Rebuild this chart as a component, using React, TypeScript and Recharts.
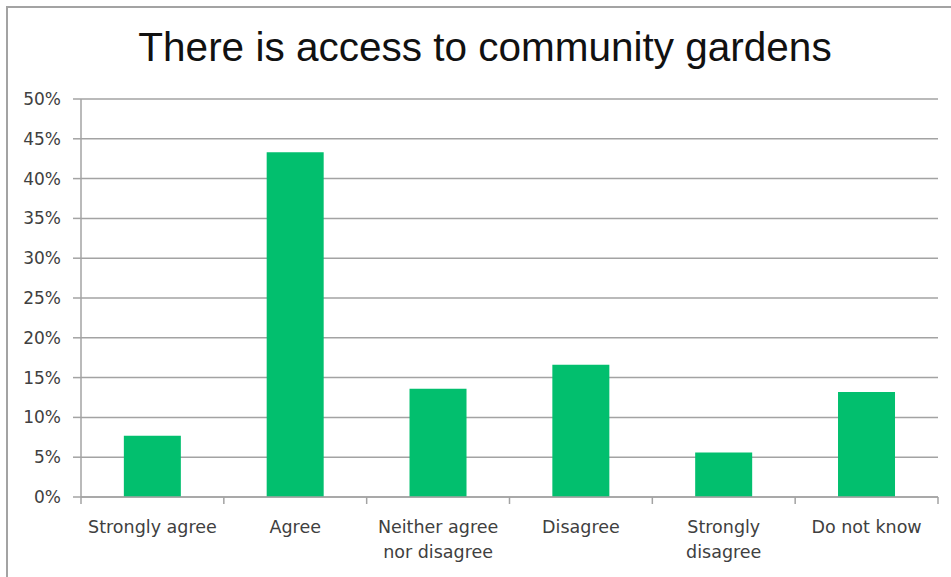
import { Bar, BarChart, CartesianGrid, XAxis, YAxis } from "recharts"

const categories = [
  "Strongly agree",
  "Agree",
  "Neither agree\nnor disagree",
  "Disagree",
  "Strongly\ndisagree",
  "Do not know",
]
const shares = [7.7, 43.3, 13.6, 16.6, 5.6, 13.2]
const yTicks = [0, 5, 10, 15, 20, 25, 30, 35, 40, 45, 50]
const title = "There is access to community gardens"

const data = categories.map((name, i) => ({ name, value: shares[i] }))

const gray = "#a3a3a3"
const labelFont = "DejaVu Sans"

// label under each bar, plus the tick marks sitting on the category edges
function CategoryTick({ x, y, payload, index, visibleTicksCount }: any) {
  const lines = String(payload.value).split("\n")
  const half = payload.offset ?? 0
  const last = index === visibleTicksCount - 1
  return (
    <g>
      <line x1={x - half} x2={x - half} y1={y} y2={y + 7} stroke={gray} strokeWidth={1.5} />
      {last && (
        <line x1={x + half} x2={x + half} y1={y} y2={y + 7} stroke={gray} strokeWidth={1.5} />
      )}
      <text
        x={x}
        y={y}
        textAnchor="middle"
        fill="#404040"
        fontSize={17.5}
        fontFamily={labelFont}
      >
        {lines.map((line, i) => (
          <tspan key={i} x={x} dy={i === 0 ? 36 : 25}>
            {line}
          </tspan>
        ))}
      </text>
    </g>
  )
}

export default function App() {
  return (
    <div
      style={{
        position: "absolute",
        left: 0,
        top: 0,
        width: 951,
        height: 577,
        overflow: "hidden",
        background: "#fff",
      }}
    >
      <div
        style={{
          position: "absolute",
          left: 6,
          top: 6,
          width: 1000,
          height: 1000,
          border: `2px solid ${gray}`,
        }}
      />
      <div
        style={{
          position: "absolute",
          left: 0,
          width: 970,
          top: 24,
          textAlign: "center",
          fontFamily: "Liberation Sans",
          fontSize: 40.5,
          color: "#111",
        }}
      >
        {title}
      </div>
      <div style={{ position: "absolute", left: 0, top: 0 }}>
        <BarChart
          width={951}
          height={577}
          data={data}
          margin={{ top: 99, right: 13, bottom: 0, left: 0 }}
          barCategoryGap="30%"
        >
          <CartesianGrid vertical={false} stroke={gray} strokeWidth={1.5} />
          <XAxis
            dataKey="name"
            height={80}
            tickSize={0}
            tickMargin={0}
            interval={0}
            axisLine={{ stroke: gray, strokeWidth: 1.5 }}
            tickLine={false}
            tick={<CategoryTick />}
          />
          <YAxis
            width={81}
            domain={[0, 50]}
            ticks={yTicks}
            interval={0}
            tickSize={8}
            tickMargin={12}
            axisLine={{ stroke: gray, strokeWidth: 1.5 }}
            tickLine={{ stroke: gray, strokeWidth: 1.5 }}
            tick={{ fill: "#404040", fontSize: 17, fontFamily: labelFont }}
            tickFormatter={(v) => `${v}%`}
          />
          <Bar dataKey="value" fill="#02bf6e" isAnimationActive={false} />
        </BarChart>
      </div>
    </div>
  )
}
